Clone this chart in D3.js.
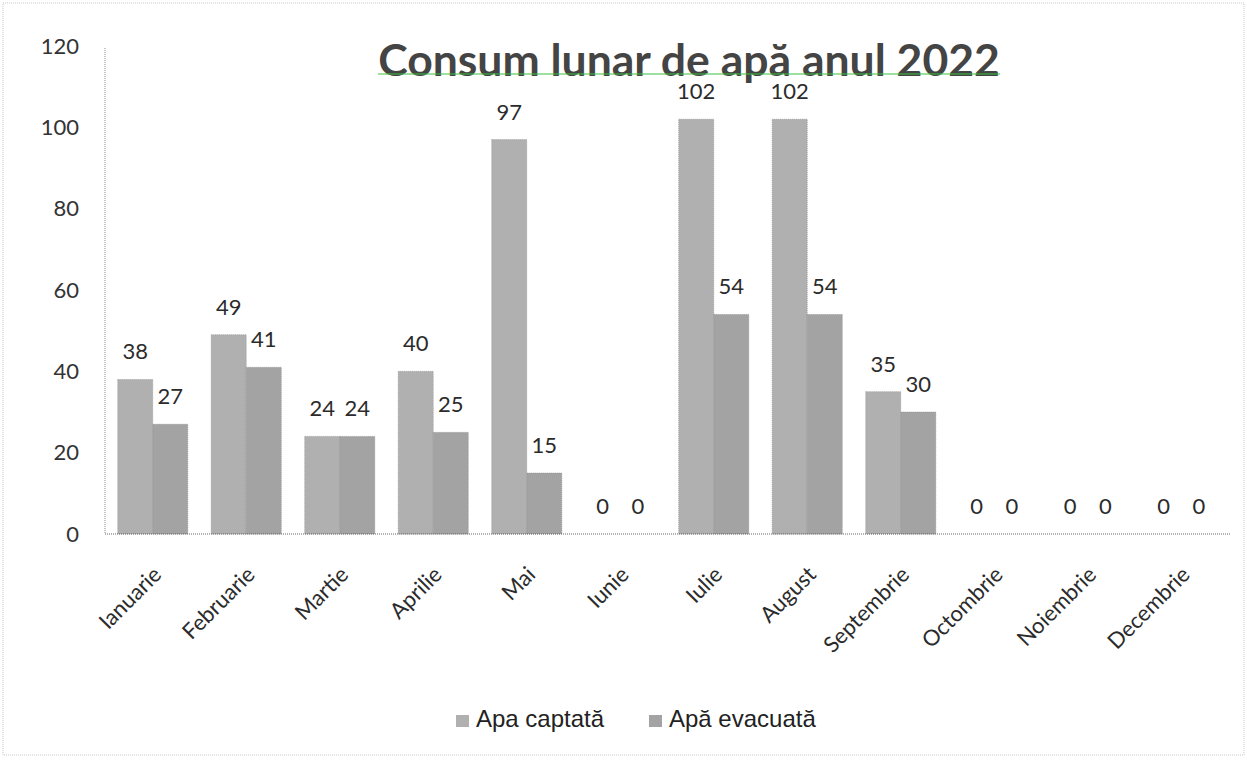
<!DOCTYPE html>
<html>
<head>
<meta charset="utf-8">
<script src="https://cdn.jsdelivr.net/npm/d3@7"></script>
<style>
  body { margin: 0; background: #fff; }
  svg { display: block; }
</style>
</head>
<body>
<script>
// chart data
const months = ['Ianuarie', 'Februarie', 'Martie', 'Aprilie', 'Mai', 'Iunie',
    'Iulie', 'August', 'Septembrie', 'Octombrie', 'Noiembrie', 'Decembrie'];
const apaCaptata = [38, 49, 24, 40, 97, 0, 102, 102, 35, 0, 0, 0];
const apaEvacuata = [27, 41, 24, 25, 15, 0, 54, 54, 30, 0, 0, 0];
const seriesNames = ['Apa captată', 'Apă evacuată'];
const yTicks = [0, 20, 40, 60, 80, 100, 120];

const W = 1247, H = 760;
const plot = { left: 105, right: 1230, top: 46, bottom: 534 };
const colors = ['#b0b0b0', '#a3a3a3'];
const numFont = 'Lato, "Open Sans", sans-serif';

const svg = d3.select('body').append('svg')
    .attr('width', W)
    .attr('height', H);

// faint outer frame of the scanned chart
svg.append('rect')
    .attr('x', 3).attr('y', 3)
    .attr('width', W - 6).attr('height', H - 8)
    .attr('fill', 'none')
    .attr('stroke', '#c8c8c8')
    .attr('stroke-dasharray', '1,1');

const y = d3.scaleLinear().domain([0, 120]).range([plot.bottom, plot.top]);

const x0 = d3.scaleBand()
    .domain(months)
    .range([plot.left + 1, plot.right - 2])
    .paddingInner(0.25)
    .paddingOuter(0.125);

const x1 = d3.scaleBand()
    .domain([0, 1])
    .range([0, x0.bandwidth()]);

const rows = months.map((m, i) => ({ month: m, vals: [apaCaptata[i], apaEvacuata[i]] }));

// bars
const groups = svg.append('g')
    .selectAll('g')
    .data(rows)
    .enter().append('g')
    .attr('transform', d => `translate(${x0(d.month)},0)`);

groups.selectAll('rect')
    .data(d => d.vals.map((v, k) => ({ v, k })))
    .enter().append('rect')
    .attr('x', d => x1(d.k))
    .attr('y', d => y(d.v))
    .attr('width', x1.bandwidth())
    .attr('height', d => y(0) - y(d.v))
    .attr('fill', d => colors[d.k])
    .attr('stroke', '#8a8a8a')
    .attr('stroke-width', 0.6)
    .attr('stroke-dasharray', '1,1');

// value labels
const labelG = svg.append('g');
rows.forEach(r => {
    r.vals.forEach((v, k) => {
        labelG.append('text')
            .attr('x', x0(r.month) + x1(k) + x1.bandwidth() / 2)
            .attr('y', y(v) - 20)
            .attr('text-anchor', 'middle')
            .style('font-family', numFont)
            .style('font-size', '22px')
            .style('fill', '#2b2b2b')
            .text(v);
    });
});

// plot frame (dotted left and bottom edges)
svg.append('line')
    .attr('x1', plot.left).attr('x2', plot.left)
    .attr('y1', plot.top + 2).attr('y2', plot.bottom)
    .attr('stroke', '#888').attr('stroke-dasharray', '1,1');
svg.append('line')
    .attr('x1', plot.left).attr('x2', plot.right)
    .attr('y1', plot.bottom).attr('y2', plot.bottom)
    .attr('stroke', '#666').attr('stroke-dasharray', '1,1');

// y axis labels
const yAxis = svg.append('g')
    .attr('transform', 'translate(79,0)')
    .call(d3.axisLeft(y).tickValues(yTicks).tickSize(0).tickPadding(0));
yAxis.select('.domain').remove();
yAxis.selectAll('text')
    .style('font-family', numFont)
    .style('font-size', '22px')
    .style('fill', '#333');

// x axis labels, rotated
const xAxis = svg.append('g')
    .attr('transform', `translate(0,${plot.bottom})`)
    .call(d3.axisBottom(x0).tickSize(0).tickPadding(0));
xAxis.select('.domain').remove();
xAxis.selectAll('text')
    .attr('transform', 'translate(10,42) rotate(-45)')
    .attr('dy', 0)
    .style('text-anchor', 'end')
    .style('font-family', numFont)
    .style('font-size', '22px')
    .style('fill', '#2b2b2b');

// title, fitted to the width it has in the original
const title = svg.append('text')
    .attr('x', 689)
    .attr('y', 76)
    .attr('text-anchor', 'middle')
    .style('font-family', 'Lato, "Open Sans", sans-serif')
    .style('font-weight', 'bold')
    .style('font-size', '42px')
    .style('fill', '#444')
    .text('Consum lunar de apă anul 2022');
const tw = title.node().getComputedTextLength();
title.style('font-size', (42 * 622 / tw).toFixed(1) + 'px');
svg.append('line')
    .attr('x1', 378).attr('x2', 1000)
    .attr('y1', 74).attr('y2', 74)
    .attr('stroke', '#3cc23c')
    .attr('stroke-width', 1);

// legend
const legend = svg.append('g');
const legendX = [456, 649];
seriesNames.forEach((name, k) => {
    legend.append('rect')
        .attr('x', legendX[k]).attr('y', 715)
        .attr('width', 13).attr('height', 12)
        .attr('fill', colors[k]);
    legend.append('text')
        .attr('x', legendX[k] + 20)
        .attr('y', 727)
        .style('font-family', '"Liberation Sans", Arial, sans-serif')
        .style('font-size', '24px')
        .style('fill', '#222')
        .text(name);
});
</script>
</body>
</html>
